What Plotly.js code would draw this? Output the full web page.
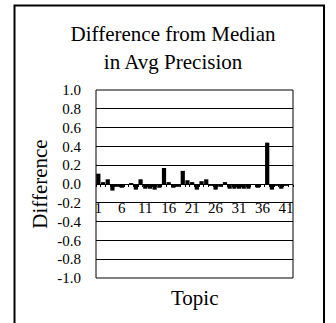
<!DOCTYPE html>
<html>
<head>
<meta charset="utf-8">
<script src="https://cdn.plot.ly/plotly-3.0.1.min.js"></script>
<style>
html,body{margin:0;padding:0;background:#fff;}
#chart{width:336px;height:323px;}
</style>
</head>
<body>
<div id="chart"></div>
<script>
// Data
var topics = [1,2,3,4,5,6,7,8,9,10,11,12,13,14,15,16,17,18,19,20,21,22,23,24,25,26,27,28,29,30,31,32,33,34,35,36,37,38,39,40,41,42];
var differences = [0.11,0.02,0.05,-0.07,-0.03,-0.04,-0.01,0.01,-0.06,0.05,
                   -0.05,-0.05,-0.06,-0.04,0.17,0.02,-0.04,-0.03,0.14,0.04,
                   0.02,-0.06,0.03,0.05,-0.02,-0.06,-0.03,0.02,-0.05,-0.05,
                   -0.05,-0.05,-0.05,-0.01,-0.04,0.00,0.44,-0.06,-0.02,-0.05,
                   -0.02,-0.01];
var xTickVals = [1,6,11,16,21,26,31,36,41];
var xTickText = ["1","6","11","16","21","26","31","36","41"];
var yMin = -1, yMax = 1, yStep = 0.2;
var yLabelAlias = {"\u22121.0":"-1.0","\u22120.8":"-0.8","\u22120.6":"-0.6","\u22120.4":"-0.4","\u22120.2":"-0.2"};
var titleText = "Difference from Median<br>in Avg Precision";
var yTitle = "Difference";
var xTitle = "Topic";

var serif = "Liberation Serif, Times New Roman, serif";

var bars = {
  type: "bar",
  x: topics,
  y: differences,
  xaxis: "x",
  yaxis: "y",
  marker: {color: "#000000", line: {width: 0}},
  hoverinfo: "skip"
};
// invisible helper so the category axis crossing at zero is drawn
var axisHelper = {
  type: "scatter",
  mode: "none",
  x: topics,
  y: differences,
  xaxis: "x2",
  yaxis: "y",
  hoverinfo: "skip"
};

var layout = {
  width: 336,
  height: 323,
  margin: {l: 96, r: 43, t: 90, b: 45},
  paper_bgcolor: "#ffffff",
  plot_bgcolor: "#ffffff",
  showlegend: false,
  bargap: 0.1,
  font: {family: serif, color: "#000000", size: 15},
  title: {
    text: titleText,
    font: {family: serif, size: 21, color: "#000000"},
    x: 0.515, xref: "container", xanchor: "center",
    y: 0.872, yref: "container", yanchor: "top"
  },
  xaxis: {
    range: [0.5, 42.5],
    anchor: "y",
    showline: false,
    showgrid: false,
    zeroline: false,
    showticklabels: false,
    ticks: "",
    fixedrange: true
  },
  xaxis2: {
    range: [0.5, 42.5],
    overlaying: "x",
    anchor: "free",
    position: 0.5,
    side: "bottom",
    showline: true,
    linecolor: "#000000",
    linewidth: 1,
    showgrid: false,
    zeroline: false,
    tickmode: "array",
    tickvals: xTickVals,
    ticktext: xTickText,
    ticks: "",
    ticklabelstandoff: 10,
    tickfont: {family: serif, size: 15, color: "#000000"},
    minor: {tick0: 0.5, dtick: 1, ticks: "outside", ticklen: 2, tickcolor: "#000000", tickwidth: 1, showgrid: false},
    fixedrange: true
  },
  yaxis: {
    range: [yMin, yMax],
    anchor: "x",
    tickmode: "linear",
    tick0: yMin,
    dtick: yStep,
    tickformat: ".1f",
    labelalias: yLabelAlias,
    showgrid: true,
    gridcolor: "#000000",
    gridwidth: 1,
    zeroline: false,
    showline: false,
    ticks: "",
    ticklabelstandoff: 14,
    tickfont: {family: serif, size: 15, color: "#000000"},
    title: {text: yTitle, font: {family: serif, size: 21, color: "#000000"}, standoff: 3},
    fixedrange: true
  },
  annotations: [{
    text: xTitle,
    xref: "paper", yref: "paper",
    x: 0.5, y: -0.106,
    xanchor: "center", yanchor: "middle",
    showarrow: false,
    font: {family: serif, size: 21, color: "#000000"}
  }],
  shapes: [
    {type: "rect", xref: "paper", yref: "paper", x0: 0, x1: 1, y0: 0, y1: 1,
     line: {color: "#000000", width: 1}, fillcolor: "rgba(0,0,0,0)", layer: "above"},
    {type: "rect", xref: "paper", yref: "paper", x0: -0.4137, x1: 1.1574, y0: -0.35, y1: 1.4495,
     line: {color: "#000000", width: 2}, fillcolor: "rgba(0,0,0,0)", layer: "above"}
  ]
};

Plotly.newPlot("chart", [bars, axisHelper], layout, {displayModeBar: false, staticPlot: true});
</script>
</body>
</html>
